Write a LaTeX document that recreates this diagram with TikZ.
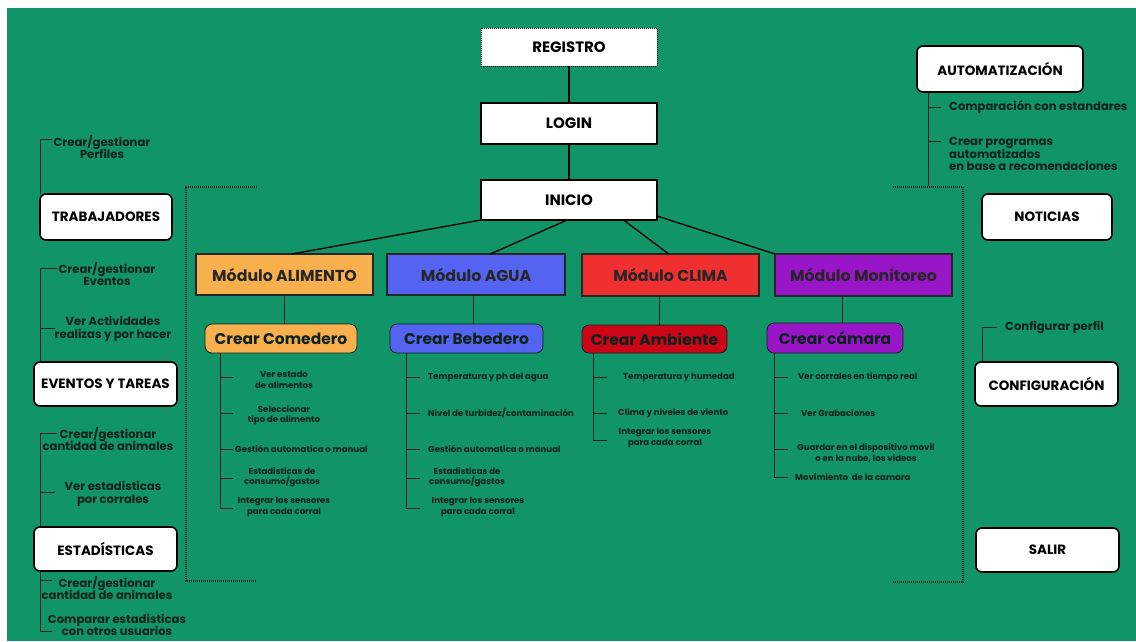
\documentclass[tikz,border=0pt]{standalone}
\usepackage{fontspec}
\setmainfont{Poppins}
\usetikzlibrary{calc}
\definecolor{bg}{RGB}{16,148,104}
\definecolor{ink}{RGB}{14,34,28}
\definecolor{orng}{RGB}{248,176,78}
\definecolor{blu}{RGB}{85,100,240}
\definecolor{rd}{RGB}{240,48,48}
\definecolor{drd}{RGB}{205,5,25}
\definecolor{purp}{RGB}{152,22,200}
\begin{document}
\begin{tikzpicture}[x=1pt,y=-1pt,
  box/.style={draw=black, fill=white, line width=1.3pt, inner sep=0pt, outer sep=0pt, text=black, font=\bfseries\fontsize{15}{17}\selectfont},
  rbox/.style={box, rounded corners=6pt, line width=1.6pt, font=\bfseries\fontsize{13.5}{15}\selectfont},
  modbox/.style={draw=black!85, line width=1.6pt, inner sep=0pt, outer sep=0pt, text=black!85, font=\bfseries\fontsize{15.8}{17}\selectfont},
  subbox/.style={draw=ink, line width=0.8pt, rounded corners=7pt, inner sep=0pt, outer sep=0pt, text=ink, font=\bfseries\fontsize{15.5}{17}\selectfont},
  lbl/.style={inner sep=0pt, text=ink, align=center, font=\bfseries\fontsize{8.6}{10.5}\selectfont},
  side/.style={inner sep=0pt, text=ink, align=center, font=\bfseries\fontsize{11.6}{12.5}\selectfont},
  tree/.style={draw=ink, line width=0.6pt},
  mainline/.style={draw=black, line width=1.3pt},
  frame/.style={draw=ink, line width=1.3pt, dash pattern=on 1pt off 1pt}
]
\useasboundingbox (0,0) rectangle (1136,641);
\fill[white] (0,0) rectangle (1136,641);
\fill[bg] (7,8) rectangle (1136,641);

% ---------- frame brackets
\draw[frame] (257,187) -- (186,187) -- (186,581) -- (256,581);
\draw[frame] (893,187) -- (963,187) -- (963,582) -- (893,582);

% ---------- central spine
\node[box, line width=1pt, dash pattern=on 1pt off 1pt, minimum width=176, minimum height=38] (reg) at (569,47) {REGISTRO};
\node[box, minimum width=176, minimum height=41] (login) at (569,123.5) {LOGIN};
\node[box, minimum width=176, minimum height=40] (inicio) at (569,200) {INICIO};
\draw[mainline] (reg) -- (login);
\draw[mainline] (login) -- (inicio);

% ---------- modules
\node[modbox, fill=orng, minimum width=177, minimum height=41] (alim) at (284.5,274.5) {Módulo ALIMENTO};
\node[modbox, fill=blu, minimum width=178, minimum height=41] (agua) at (476,274.5) {Módulo AGUA};
\node[modbox, fill=rd, minimum width=177, minimum height=42] (clima) at (670.5,275) {Módulo CLIMA};
\node[modbox, fill=purp, minimum width=177, minimum height=42] (moni) at (863.5,275) {Módulo Monitoreo};

\draw[mainline] (inicio.south west) -- ($(alim.north west)!0.54!(alim.north east)$);
\draw[mainline] ($(inicio.south west)!0.49!(inicio.south east)$) -- ($(agua.north west)!0.58!(agua.north east)$);
\draw[mainline] ($(inicio.south west)!0.81!(inicio.south east)$) -- ($(clima.north west)!0.49!(clima.north east)$);
\draw[mainline] ($(inicio.east)!0.8!(inicio.south east)$) -- (moni.north west);

% ---------- sub boxes
\node[subbox, fill=orng, minimum width=152, minimum height=29] (comedero) at (281,338.5) {Crear Comedero};
\node[subbox, fill=blu, minimum width=153, minimum height=29] (bebedero) at (466.5,338.5) {Crear Bebedero};
\node[subbox, fill=drd, minimum width=145, minimum height=28] (ambiente) at (654.5,339) {Crear Ambiente};
\node[subbox, fill=purp, minimum width=136, minimum height=30] (camara) at (835,338) {Crear cámara};

\draw[tree] (alim.south) -- (alim.south |- comedero.north);
\draw[tree] (agua.south -| bebedero.north) ++(6.5,0) coordinate (aguab) -- (aguab |- bebedero.north);
\draw[tree] (clima.south) ++(-11.5,0) coordinate (climab) -- (climab |- ambiente.north);
\draw[tree] (moni.south) ++(-21.5,0) coordinate (monib) -- (monib |- camara.north);

% ---------- Comedero tree
\coordinate (cm0) at (220,353);
\coordinate (cm1) at (220,377); \coordinate (cm2) at (220,413);
\coordinate (cm3) at (220,449); \coordinate (cm4) at (220,478);
\coordinate (cm5) at (220,508);
\draw[tree] (cm0) -- (cm5) -- ++(13,0);
\foreach \i in {1,...,4} {\draw[tree] (cm\i) -- ++(13,0);}
\node[lbl] (cl1) at (284,380) {Ver estado\\de alimentos};
\node[lbl] (cl2) at (284,415) {Seleccionar\\tipo de alimento};
\node[lbl, anchor=west] (cl3) at (235,449) {Gestión automatica o manual};
\node[lbl] (cl4) at (282,477) {Estadisticas de\\consumo/gastos};
\node[lbl] (cl5) at (284,507) {Integrar los sensores\\para cada corral};

% ---------- Bebedero tree
\coordinate (bb0) at (406,353);
\coordinate (bb1) at (406,377); \coordinate (bb2) at (406,413);
\coordinate (bb3) at (406,449); \coordinate (bb4) at (406,478);
\coordinate (bb5) at (406,508);
\draw[tree] (bb0) -- (bb5) -- ++(14,0);
\foreach \i in {1,...,4} {\draw[tree] (bb\i) -- ++(14,0);}
\node[lbl, anchor=west] (bl1) at (428,377) {Temperatura y ph del agua};
\node[lbl, anchor=west] (bl2) at (428,413) {Nivel de turbidez/contaminación};
\node[lbl, anchor=west] (bl3) at (428,449) {Gestión automatica o manual};
\node[lbl] (bl4) at (467,477) {Estadisticas de\\consumo/gastos};
\node[lbl] (bl5) at (478,507) {Integrar los sensores\\para cada corral};

% ---------- Ambiente tree
\coordinate (am0) at (593,353);
\coordinate (am1) at (593,377); \coordinate (am2) at (593,413);
\coordinate (am3) at (593,440);
\draw[tree] (am0) -- (am3) -- ++(14,0);
\foreach \i in {1,2} {\draw[tree] (am\i) -- ++(14,0);}
\node[lbl, anchor=west] (al1) at (623,377) {Temperatura y humedad};
\node[lbl, anchor=west] (al2) at (618,413) {Clima y niveles de viento};
\node[lbl] (al3) at (665,438) {Integrar los sensores\\para cada corral};

% ---------- Camara tree
\coordinate (ka0) at (774,353);
\coordinate (ka1) at (774,377); \coordinate (ka2) at (774,413);
\coordinate (ka3) at (774,449); \coordinate (ka4) at (774,477);
\draw[tree] (ka0) -- (ka4) -- ++(14,0);
\foreach \i in {1,2,3} {\draw[tree] (ka\i) -- ++(14,0);}
\node[lbl, anchor=west] (kl1) at (798,377) {Ver corrales en tiempo real};
\node[lbl, anchor=west] (kl2) at (801,413) {Ver Grabaciones};
\node[lbl] (kl3) at (866,453) {Guardar en el dispositivo movil\\o en la nube, los videos};
\node[lbl, anchor=west] (kl4) at (795,477) {Movimiento\ \ de la camara};

% ---------- Left column
\node[rbox, minimum width=132, minimum height=46] (trab) at (106,217) {TRABAJADORES};
\node[rbox, minimum width=143, minimum height=44] (even) at (105.5,384) {EVENTOS Y TAREAS};
\node[rbox, minimum width=143, minimum height=44] (esta) at (105.5,549) {ESTADÍSTICAS};

\coordinate (t1) at (40,139);
\draw[tree] (trab.north -| t1) -- (t1) -- ++(12,0);
\node[side] (tl1) at (102,147) {Crear/gestionar\\Perfiles};

\coordinate (e1) at (40,268); \coordinate (e2) at (40,328);
\draw[tree] (even.north -| e1) -- (e1) -- ++(17,0);
\draw[tree] (e2) -- ++(15,0);
\node[side] (el1) at (107,274) {Crear/gestionar\\Eventos};
\node[side] (el2) at (113,329) {Ver Actividades\\realizas y por hacer};

\coordinate (s1) at (40,433); \coordinate (s2) at (40,492);
\draw[tree] (esta.north -| s1) -- (s1) -- ++(17,0);
\draw[tree] (s2) -- ++(15,0);
\node[side] (sl1) at (108,439) {Crear/gestionar\\cantidad de animales};
\node[side] (sl2) at (113,494) {Ver estadisticas\\por corrales};

\coordinate (u1) at (40,580); \coordinate (u2) at (40,631);
\draw[tree] (esta.south -| u1) -- (u2) -- ++(12,0);
\draw[tree] (u1) -- ++(12,0);
\node[side] (ul1) at (107,588) {Crear/gestionar\\cantidad de animales};
\node[side] (ul2) at (117,625) {Comparar estadisticas\\con otros usuarios};

% ---------- Right column
\node[rbox, minimum width=166, minimum height=46] (auto) at (1000,69) {AUTOMATIZACIÓN};
\node[rbox, minimum width=130, minimum height=46] (noti) at (1047,217) {NOTICIAS};
\node[rbox, minimum width=143, minimum height=44] (conf) at (1046.5,384) {CONFIGURACIÓN};
\node[rbox, minimum width=143, minimum height=44] (sali) at (1047.5,550) {SALIR};

\coordinate (r1) at (928,107); \coordinate (r2) at (928,141); \coordinate (r3) at (928,186);
\draw[tree] (auto.south -| r1) -- (r3);
\draw[tree] (r1) -- ++(13,0);
\draw[tree] (r2) -- ++(13,0);
\node[side, anchor=west] (rl1) at (949,107) {Comparación con estandares};
\node[side, anchor=west, align=left] (rl2) at (949,154) {Crear programas\\automatizados\\en base a recomendaciones};

\coordinate (c1) at (982,327);
\draw[tree] (conf.north west) ++(7,0) coordinate (cnw) -- (cnw |- c1) -- ++(15,0);
\node[side, anchor=west] (cl) at (1005,327) {Configurar perfil};
\end{tikzpicture}
\end{document}
